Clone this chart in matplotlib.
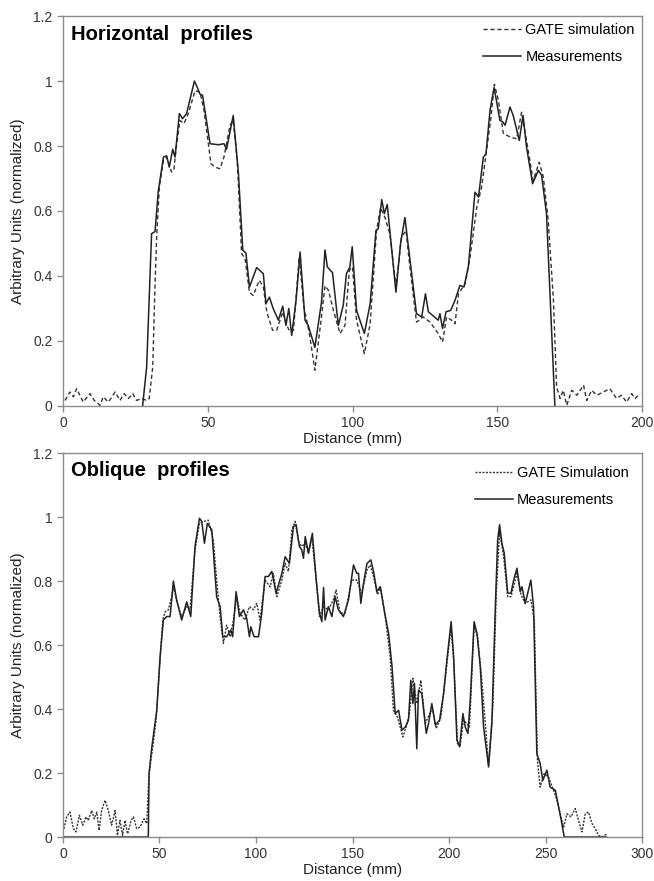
import numpy as np
import matplotlib.pyplot as plt

plt.rcParams['font.family'] = ['Liberation Sans', 'DejaVu Sans']

# 水平剖面 - 测量值 (实线)
h_meas_x = [27.5, 28.9, 30.6, 31.8, 32.9, 34.7, 35.8, 36.7, 37.9, 38.7, 40.2, 41.3, 42.7,
            45.4, 46.4, 47.3, 48.2, 50.8, 53.7, 55.6, 56.5, 58.8, 60.6, 62.1, 63.2, 64.4,
            66.9, 69.2, 70.1, 71.3, 72.6, 74.4, 75.9, 77.0, 78.0, 79.0, 80.5, 81.9, 83.6,
            84.7, 87.0, 89.3, 90.5, 91.3, 93.1, 95.1, 96.8, 97.9, 99.1, 99.9, 101.4, 104.1,
            106.1, 108.1, 108.9, 110.1, 111.0, 112.0, 115.0, 116.6, 118.1, 118.9, 122.1,
            123.9, 125.2, 126.2, 129.6, 130.2, 131.1, 132.3, 133.9, 135.4, 137.1, 138.5,
            140.0, 142.3, 143.5, 145.2, 146.1, 147.5, 148.9, 149.8, 150.9, 151.9, 152.7,
            154.4, 155.5, 157.6, 158.9, 160.1, 162.2, 164.2, 165.3, 167.0, 169.9]
h_meas_y = [0, 0.12, 0.53, 0.537, 0.66, 0.766, 0.77, 0.735, 0.79, 0.766, 0.90, 0.884, 0.90,
            1.0, 0.98, 0.96, 0.956, 0.807, 0.804, 0.807, 0.79, 0.894, 0.715, 0.48, 0.47, 0.366,
            0.426, 0.407, 0.315, 0.335, 0.30, 0.264, 0.307, 0.248, 0.30, 0.217, 0.325, 0.474, 0.264,
            0.248, 0.18, 0.32, 0.48, 0.428, 0.41, 0.248, 0.31, 0.407, 0.428, 0.49, 0.294, 0.223,
            0.315, 0.54, 0.546, 0.635, 0.592, 0.62, 0.35, 0.50, 0.58, 0.52, 0.284,
            0.274, 0.345, 0.29, 0.264, 0.284, 0.238, 0.29, 0.294, 0.325, 0.371, 0.366,
            0.428, 0.658, 0.643, 0.766, 0.776, 0.91, 0.98, 0.935, 0.879, 0.874, 0.864,
            0.92, 0.894, 0.817, 0.894, 0.797, 0.684, 0.725, 0.71, 0.592, 0]

# 水平剖面 - GATE 模拟 (虚线)
h_sim_x = [0.7, 2.4, 3.6, 4.7, 7.0, 9.3, 10.8, 12.8, 13.9, 15.7, 18.0, 19.7, 21.1, 22.6, 24.1,
           25.4, 27.2, 28.9, 29.8, 31.0, 31.8, 32.4, 33.3, 34.7, 35.8, 37.5, 38.3, 39.0, 40.4,
           41.8, 43.3, 45.6, 47.3, 48.7, 51.1, 52.5, 54.2, 55.6, 57.7, 58.8, 60.2, 61.7, 62.9,
           64.4, 65.7, 67.8, 69.2, 70.4, 72.4, 73.8, 75.9, 77.3, 78.4, 79.6, 81.6, 83.2, 85.1,
           87.0, 89.0, 90.5, 91.7, 93.4, 95.7, 97.4, 98.9, 100.0, 101.4, 104.1, 106.1, 108.3,
           109.7, 111.2, 112.9, 115.0, 116.9, 118.5, 119.3, 122.1, 124.4, 126.8, 129.6, 131.1,
           132.5, 134.2, 135.4, 136.6, 138.9, 140.6, 142.9, 144.6, 146.3, 147.7, 149.0, 150.4,
           152.1, 154.4, 156.7, 158.4, 160.1, 162.4, 164.5, 165.9, 167.6, 169.4, 170.5, 171.7,
           172.8, 174.0, 175.7, 177.5, 179.8, 180.9, 182.6, 184.4, 186.6, 188.9, 191.2, 192.9,
           194.7, 196.4, 197.6, 199.3]
h_sim_y = [0.017, 0.043, 0.028, 0.053, 0.012, 0.038, 0.017, 0.002, 0.028, 0.012, 0.043, 0.017,
           0.038, 0.023, 0.038, 0.017, 0.023, 0.017, 0.023, 0.12, 0.376, 0.53, 0.674, 0.756,
           0.766, 0.72, 0.725, 0.787, 0.879, 0.869, 0.90, 0.97, 0.966, 0.91, 0.746, 0.735, 0.73,
           0.766, 0.864, 0.879, 0.756, 0.469, 0.453, 0.35, 0.34, 0.387, 0.366, 0.289, 0.233,
           0.233, 0.289, 0.248, 0.228, 0.233, 0.458, 0.305, 0.223, 0.11, 0.253, 0.37, 0.356,
           0.294, 0.223, 0.248, 0.417, 0.428, 0.264, 0.161, 0.253, 0.54, 0.61, 0.58, 0.53,
           0.366, 0.52, 0.54, 0.469, 0.258, 0.274, 0.258, 0.223, 0.197, 0.274, 0.264, 0.253,
           0.345, 0.376, 0.458, 0.61, 0.674, 0.787, 0.879, 0.99, 0.94, 0.838, 0.828, 0.822,
           0.904, 0.817, 0.694, 0.75, 0.705, 0.571, 0.325, 0.058, 0.023, 0.048, 0.002, 0.048,
           0.033, 0.064, 0.017, 0.048, 0.033, 0.043, 0.053, 0.023, 0.033, 0.012, 0.038, 0.023,
           0.038]

# 斜向剖面 - 测量值 (实线)
o_meas_x = [0, 44.2, 44.6, 46.0, 47.7, 48.6, 50.3, 52.0, 53.7, 55.5, 57.2, 58.9, 61.5, 64.1,
            66.2, 68.4, 70.7, 71.9, 73.3, 74.8, 77.1, 79.6, 81.4, 82.8, 84.8, 86.9, 87.9, 89.7,
            91.4, 93.5, 95.2, 96.6, 97.3, 99.0, 101.3, 103.0, 104.7, 106.4, 108.2, 110.4,
            113.4, 115.1, 117.3, 119.4, 120.8, 122.5, 123.7, 124.6, 125.5, 127.2, 129.2,
            131.2, 132.9, 134.1, 135.0, 135.8, 137.5, 139.3, 141.0, 142.7, 145.3, 147.9,
            150.5, 152.2, 153.1, 154.3, 155.7, 157.5, 159.5, 160.9, 162.6, 164.4, 167.0,
            168.7, 170.5, 172.1, 173.9, 175.6, 177.4, 179.0, 180.2, 181.3, 182.1, 183.3,
            184.2, 185.9, 188.2, 189.4, 191.1, 192.9, 195.1, 197.2, 198.9, 201.1, 202.4,
            204.1, 205.5, 207.2, 208.4, 209.8, 211.0, 213.0, 214.5, 216.2, 217.9, 220.5,
            222.2, 224.0, 225.2, 226.2, 227.4, 228.6, 230.4, 232.1, 233.5, 235.2, 236.9,
            237.8, 239.5, 242.4, 243.8, 245.5, 247.2, 248.6, 250.7, 252.4, 255.1, 256.8,
            258.0, 259.7, 281.5]
o_meas_y = [0, 0, 0.198, 0.28, 0.355, 0.396, 0.563, 0.678, 0.689, 0.689, 0.80, 0.74, 0.678,
            0.735, 0.689, 0.908, 0.996, 0.986, 0.918, 0.98, 0.96, 0.751, 0.72, 0.626, 0.626,
            0.647, 0.626, 0.767, 0.689, 0.71, 0.683, 0.626, 0.657, 0.626, 0.626, 0.70, 0.814,
            0.814, 0.83, 0.762, 0.824, 0.876, 0.855, 0.97, 0.976, 0.908, 0.897, 0.871, 0.939,
            0.887, 0.949, 0.803, 0.70, 0.673, 0.78, 0.678, 0.72, 0.689, 0.751, 0.71, 0.689,
            0.741, 0.85, 0.824, 0.824, 0.73, 0.793, 0.855, 0.866, 0.83, 0.767, 0.782, 0.689,
            0.636, 0.532, 0.386, 0.396, 0.334, 0.344, 0.365, 0.49, 0.417, 0.48, 0.276, 0.459,
            0.449, 0.324, 0.355, 0.417, 0.35, 0.365, 0.449, 0.553, 0.673, 0.563, 0.303, 0.282,
            0.386, 0.344, 0.324, 0.428, 0.673, 0.636, 0.532, 0.344, 0.219, 0.355, 0.72, 0.928,
            0.976, 0.918, 0.887, 0.762, 0.762, 0.803, 0.84, 0.767, 0.782, 0.73, 0.803, 0.72,
            0.261, 0.23, 0.177, 0.209, 0.156, 0.146, 0.094, 0.057, 0, 0]

# 斜向剖面 - GATE 模拟 (点线)
o_sim_x = [0.5, 1.9, 3.6, 5.4, 6.7, 8.5, 10.2, 11.9, 13.1, 14.9, 16.2, 17.5, 18.7, 20.0, 21.8,
           23.5, 25.2, 27.0, 28.2, 29.5, 30.9, 32.1, 33.5, 35.3, 36.5, 38.2, 39.9, 42.0, 43.4,
           44.6, 46.5, 48.2, 50.3, 51.7, 52.9, 54.6, 56.3, 57.2, 59.8, 61.5, 64.1, 65.8, 68.4,
           70.7, 72.7, 75.3, 77.9, 79.6, 81.4, 83.1, 84.8, 86.6, 88.3, 90.0, 91.7, 94.3, 96.6,
           98.7, 100.4, 102.1, 104.7, 107.3, 109.0, 110.8, 113.4, 115.1, 116.8, 118.6, 120.3,
           122.0, 123.7, 125.5, 127.2, 128.9, 131.2, 132.9, 135.0, 137.5, 140.1, 141.5, 143.6,
           146.2, 149.6, 152.2, 154.8, 157.5, 159.2, 160.9, 163.0, 164.4, 167.0, 169.5, 171.2,
           173.3, 176.1, 177.8, 179.5, 181.3, 183.3, 185.4, 187.7, 190.0, 191.6, 193.4, 195.8,
           198.0, 201.0, 202.4, 204.4, 205.8, 207.5, 209.2, 210.6, 213.0, 214.8, 217.0, 220.5,
           222.7, 224.5, 226.2, 228.3, 230.4, 232.1, 235.2, 237.3, 239.5, 242.4, 244.2, 245.8,
           247.2, 249.3, 251.5, 254.2, 255.9, 258.0, 259.4, 261.1, 263.2, 265.4, 267.1, 268.9,
           270.6, 272.3, 274.1, 275.8, 277.5, 279.3, 281.8]
o_sim_y = [0.026, 0.063, 0.078, 0.026, 0.016, 0.068, 0.037, 0.063, 0.052, 0.083, 0.057, 0.078,
           0.021, 0.083, 0.115, 0.083, 0.037, 0.083, 0.005, 0.052, 0.005, 0.052, 0.01, 0.052,
           0.063, 0.026, 0.031, 0.057, 0.042, 0.198, 0.28, 0.365, 0.553, 0.678, 0.704, 0.71,
           0.751, 0.782, 0.72, 0.689, 0.72, 0.71, 0.897, 0.98, 0.986, 0.99, 0.928, 0.803, 0.689,
           0.605, 0.662, 0.626, 0.678, 0.751, 0.70, 0.678, 0.72, 0.71, 0.73, 0.678, 0.803,
           0.782, 0.824, 0.751, 0.803, 0.855, 0.83, 0.96, 0.986, 0.923, 0.908, 0.918, 0.887,
           0.939, 0.803, 0.689, 0.72, 0.71, 0.741, 0.772, 0.70, 0.70, 0.803, 0.803, 0.762,
           0.835, 0.85, 0.814, 0.757, 0.782, 0.689, 0.563, 0.396, 0.375, 0.313, 0.344, 0.386,
           0.496, 0.417, 0.49, 0.355, 0.386, 0.396, 0.339, 0.375, 0.49, 0.657, 0.553, 0.292,
           0.287, 0.365, 0.355, 0.344, 0.662, 0.626, 0.49, 0.224, 0.407, 0.762, 0.955, 0.876,
           0.751, 0.751, 0.824, 0.757, 0.73, 0.741, 0.678, 0.24, 0.156, 0.198, 0.188, 0.146,
           0.115, 0.063, 0.031, 0.073, 0.063, 0.089, 0.052, 0.016, 0.073, 0.078, 0.042, 0.026,
           0.005, 0.0, 0.01]

y_ticks = [0, 0.2, 0.4, 0.6, 0.8, 1, 1.2]
y_ticklabels = ['0', '0.2', '0.4', '0.6', '0.8', '1', '1.2']


def style_axes(ax, xmax, xstep):
    ax.set_xlim(0, xmax)
    ax.set_ylim(0, 1.2)
    ax.set_xticks(np.arange(0, xmax + 1, xstep))
    ax.set_yticks(y_ticks)
    ax.set_yticklabels(y_ticklabels)
    for s in ax.spines.values():
        s.set_color('#8c8c8c')
        s.set_linewidth(1.0)
    ax.tick_params(colors='#8c8c8c', labelcolor='#333333', labelsize=10, length=4, width=1)
    ax.set_xlabel('Distance (mm)', fontsize=11, color='#222222', labelpad=1)
    ax.set_ylabel('Arbitrary Units (normalized)', fontsize=11, color='#222222', labelpad=6)


fig = plt.figure(figsize=(6.54, 8.81), dpi=100)
ax1 = fig.add_axes([0.0963, 0.5392, 0.8854, 0.4426])
ax2 = fig.add_axes([0.0963, 0.0499, 0.8854, 0.4359])

ax1.plot(h_sim_x, h_sim_y, color='#333333', lw=1.0, ls=(0, (3, 2)), label='GATE simulation')
ax1.plot(h_meas_x, h_meas_y, color='#222222', lw=1.1, label='Measurements')
style_axes(ax1, 200, 50)
ax1.text(0.014, 0.978, 'Horizontal  profiles', transform=ax1.transAxes, fontsize=14.5,
         fontweight='bold', va='top', ha='left')
ax1.legend(loc='upper right', frameon=False, fontsize=10.5, handlelength=2.6,
           handletextpad=0.3, labelspacing=0.9, borderaxespad=0.1)

ax2.plot(o_sim_x, o_sim_y, color='#333333', lw=1.0, ls=(0, (1.5, 1)), label='GATE Simulation')
ax2.plot(o_meas_x, o_meas_y, color='#222222', lw=1.1, label='Measurements')
style_axes(ax2, 300, 50)
ax2.text(0.014, 0.978, 'Oblique  profiles', transform=ax2.transAxes, fontsize=14.5,
         fontweight='bold', va='top', ha='left')
ax2.legend(loc='upper right', frameon=False, fontsize=10.5, handlelength=2.6,
           handletextpad=0.3, labelspacing=0.9, borderaxespad=0.5)

fig.savefig('out.png', dpi=100)
